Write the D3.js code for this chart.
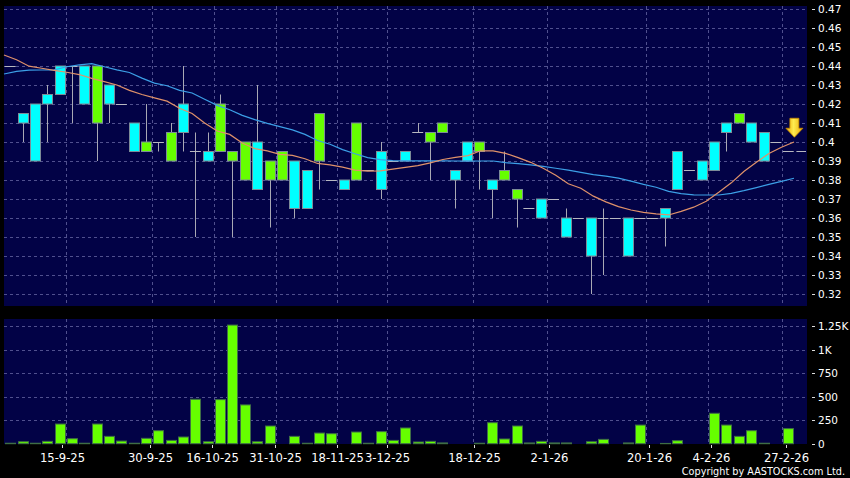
<!DOCTYPE html>
<html><head><meta charset="utf-8">
<script src="https://cdn.jsdelivr.net/npm/d3@7"></script>
<style>html,body{margin:0;padding:0;background:#000;} svg{display:block;}</style>
</head><body>
<svg id="c" width="850" height="478"></svg>
<script>
// ---- data ----
const opens  = [0.44,0.41,0.39,0.42,0.425,0.44,0.42,0.44,0.42,0.42,
                0.395,0.40,0.40,0.405,0.405,0.395,0.39,0.42,0.395,0.40,
                0.375,0.39,0.395,0.365,0.365,0.415,0.38,0.375,0.41,0.385,
                0.375,0.39,0.39,0.405,0.405,0.41,0.38,0.39,0.40,0.375,
                0.385,0.375,0.365,0.36,0.37,0.35,0.36,0.34,0.36,0.36,
                0.34,0.36,0.36,0.36,0.375,0.385,0.38,0.385,0.405,0.415,
                0.40,0.39,0.40,0.395];
const closes = [0.44,0.415,0.42,0.425,0.44,0.44,0.44,0.41,0.43,0.42,
                0.41,0.395,0.40,0.39,0.42,0.395,0.395,0.395,0.39,0.38,
                0.40,0.38,0.38,0.39,0.385,0.39,0.38,0.38,0.38,0.385,
                0.395,0.39,0.395,0.405,0.40,0.405,0.385,0.40,0.395,0.38,
                0.38,0.37,0.365,0.37,0.37,0.36,0.36,0.36,0.36,0.36,
                0.36,0.36,0.36,0.365,0.395,0.385,0.39,0.40,0.41,0.41,
                0.41,0.405,0.40,0.395];
const highs  = [0.44,0.415,0.42,0.43,0.44,0.44,0.44,0.44,0.43,0.42,
                0.41,0.42,0.40,0.41,0.44,0.405,0.405,0.425,0.395,0.40,
                0.43,0.39,0.395,0.39,0.385,0.415,0.38,0.38,0.41,0.385,
                0.40,0.39,0.395,0.41,0.405,0.41,0.385,0.40,0.40,0.38,
                0.395,0.375,0.365,0.37,0.37,0.365,0.36,0.36,0.365,0.36,
                0.36,0.36,0.36,0.365,0.395,0.385,0.39,0.40,0.41,0.415,
                0.41,0.405,0.40,0.395];
const lows   = [0.44,0.40,0.39,0.40,0.425,0.41,0.42,0.39,0.41,0.42,
                0.395,0.395,0.395,0.39,0.395,0.35,0.39,0.395,0.35,0.38,
                0.375,0.355,0.38,0.36,0.365,0.375,0.38,0.375,0.38,0.385,
                0.37,0.39,0.39,0.405,0.38,0.405,0.365,0.39,0.375,0.36,
                0.38,0.355,0.365,0.36,0.37,0.35,0.36,0.32,0.33,0.36,
                0.34,0.36,0.36,0.345,0.375,0.385,0.38,0.385,0.395,0.41,
                0.40,0.39,0.40,0.395];
const volumes = [5,21,5,25,209,53,5,209,78,28,
                 5,57,138,35,71,472,21,468,1260,412,
                 21,188,0,78,5,113,106,0,124,5,
                 128,35,167,18,25,8,0,0,5,223,
                 50,188,8,25,8,8,0,21,46,0,
                 8,198,0,3,32,0,0,323,198,78,
                 138,5,0,160];
const ma10 = [0.4458,0.4433,0.4399,0.4388,0.4377,0.4367,0.4355,0.4335,0.4318,0.4300,
              0.4272,0.4250,0.4232,0.4215,0.4178,0.4150,0.4100,0.4058,0.4040,0.3995,
              0.3965,0.3953,0.3935,0.3930,0.3912,0.3887,0.3880,0.3868,0.3852,0.3847,
              0.3848,0.3857,0.3866,0.3876,0.3890,0.3908,0.3919,0.3928,0.3954,0.3953,
              0.3940,0.3918,0.3893,0.3862,0.3825,0.3780,0.3757,0.3715,0.3685,0.3660,
              0.3642,0.3630,0.3622,0.3616,0.3635,0.3657,0.3688,0.3735,0.3785,0.3845,
              0.3893,0.3940,0.3972,0.4000];
const ma20 = [0.4358,0.4372,0.4378,0.4379,0.4380,0.4396,0.4406,0.4412,0.4396,0.4380,
              0.4366,0.4336,0.4310,0.4296,0.4272,0.4258,0.4225,0.4193,0.4170,0.4140,
              0.4118,0.4098,0.4081,0.4064,0.4040,0.4008,0.3988,0.3960,0.3938,0.3918,
              0.3907,0.3902,0.3901,0.3901,0.3901,0.3901,0.3900,0.3899,0.3900,0.3900,
              0.3891,0.3886,0.3880,0.3872,0.3862,0.3852,0.3840,0.3828,0.3820,0.3810,
              0.3794,0.3777,0.3762,0.3740,0.3728,0.3722,0.3721,0.3721,0.3730,0.3744,
              0.3760,0.3777,0.3793,0.3809];
const priceTicks = [0.47,0.46,0.45,0.44,0.43,0.42,0.41,0.40,0.39,0.38,0.37,0.36,0.35,0.34,0.33,0.32];
const volTicks = [0,250,500,750,1000,1250];
const volTickLabels = ["0","250","500","750","1K","1.25K"];
const dateLabels = ["15-9-25","30-9-25","16-10-25","31-10-25","18-11-25","3-12-25","18-12-25","2-1-26","20-1-26","4-2-26","27-2-26"];
const dateSlots = [5,12,17,22,27,31,38,44,52,57,63];
const lastPrice = 0.395;
const copyright = "Copyright by AASTOCKS.com Ltd.";

// ---- layout ----
const N = opens.length;
const L = 4, R = 807;
const P = {top: 6, bottom: 306};
const V = {top: 319, bottom: 444};

const x = d3.scaleLinear().domain([0, N]).range([L, L + 12.35 * N]);
const cx = i => x(i + 0.5);
const xMA = d3.scaleLinear().domain([0, N - 1]).range([L, 794]);
const xLab = d3.scaleLinear().domain([0, N]).range([0, 12.478 * N]);
const yP = d3.scaleLinear().domain([0.32, 0.47]).range([294, 9]);
const yV = d3.scaleLinear().domain([0, 1250]).range([443.7, 326]);

const svg = d3.select("#c");
svg.append("rect").attr("width", 850).attr("height", 478).attr("fill", "#000");

const navy = "#020246";
const gridCol = "#50508e";
svg.append("rect").attr("x", L).attr("y", P.top).attr("width", R - L).attr("height", P.bottom - P.top).attr("fill", navy);
svg.append("rect").attr("x", L).attr("y", V.top).attr("width", R - L).attr("height", V.bottom - V.top).attr("fill", navy);

// grids
const g = svg.append("g").attr("stroke", gridCol).attr("stroke-width", 1).attr("stroke-dasharray", "3,3");
g.selectAll(".hp").data(priceTicks).join("line")
  .attr("x1", L).attr("x2", R).attr("y1", d => Math.round(yP(d)) + 0.5).attr("y2", d => Math.round(yP(d)) + 0.5);
g.selectAll(".hv").data(volTicks.filter(d => d > 0)).join("line")
  .attr("x1", L).attr("x2", R).attr("y1", d => Math.round(yV(d)) + 0.5).attr("y2", d => Math.round(yV(d)) + 0.5);
dateSlots.forEach(k => {
  const xx = Math.round(x(k)) + 0.5;
  g.append("line").attr("x1", xx).attr("x2", xx).attr("y1", P.top).attr("y2", P.bottom);
  g.append("line").attr("x1", xx).attr("x2", xx).attr("y1", V.top).attr("y2", V.bottom);
});

// candles
const idx = d3.range(N);
const cg = svg.append("g");
cg.selectAll(".wick").data(idx.filter(i => highs[i] > lows[i])).join("line")
  .attr("x1", i => Math.round(cx(i)) + 0.5).attr("x2", i => Math.round(cx(i)) + 0.5)
  .attr("y1", i => yP(highs[i])).attr("y2", i => yP(lows[i]))
  .attr("stroke", "#a9a9b4").attr("stroke-width", 1);
cg.selectAll(".doji").data(idx.filter(i => opens[i] === closes[i])).join("line")
  .attr("x1", i => cx(i) - 5.5).attr("x2", i => cx(i) + 5.5)
  .attr("y1", i => Math.round(yP(opens[i])) + 0.5).attr("y2", i => Math.round(yP(opens[i])) + 0.5)
  .attr("stroke", "#b8b8c0").attr("stroke-width", 1);
cg.selectAll(".body").data(idx.filter(i => opens[i] !== closes[i])).join("rect")
  .attr("x", i => Math.round(cx(i) - 5) + 0.5).attr("width", 10)
  .attr("y", i => yP(Math.max(opens[i], closes[i])))
  .attr("height", i => Math.abs(yP(opens[i]) - yP(closes[i])))
  .attr("fill", i => closes[i] > opens[i] ? "#00ffff" : "#66ff00")
  .attr("stroke", "#7c8c98").attr("stroke-width", 1);

// last price marker
svg.append("line").attr("x1", x(N) + 2).attr("x2", R - 1)
  .attr("y1", Math.round(yP(lastPrice)) + 0.5).attr("y2", Math.round(yP(lastPrice)) + 0.5)
  .attr("stroke", "#b8b8c0");

// moving averages
const line = arr => d3.line().x((d, i) => xMA(i)).y(d => yP(d))(arr);
svg.append("path").attr("d", line(ma20)).attr("fill", "none").attr("stroke", "#3c9fe6").attr("stroke-width", 1.2);
svg.append("path").attr("d", line(ma10)).attr("fill", "none").attr("stroke", "#e0926a").attr("stroke-width", 1.2);

// arrow (latest)
const ax = x(N), ay = yP(lastPrice + 0.0075);
const defs = svg.append("defs");
const grad = defs.append("linearGradient").attr("id", "ag").attr("x1", 0).attr("x2", 1).attr("y1", 0).attr("y2", 0);
grad.append("stop").attr("offset", "0%").attr("stop-color", "#eaa800");
grad.append("stop").attr("offset", "45%").attr("stop-color", "#ffec50");
grad.append("stop").attr("offset", "100%").attr("stop-color", "#eaa800");
svg.append("path")
  .attr("d", `M${ax-4.5},${ay-19} L${ax+4.5},${ay-19} L${ax+4.5},${ay-9} L${ax+8.5},${ay-9} L${ax},${ay} L${ax-8.5},${ay-9} L${ax-4.5},${ay-9} Z`)
  .attr("fill", "url(#ag)").attr("stroke", "#c98a00").attr("stroke-width", 0.8);

// volume bars
svg.append("g").selectAll("rect").data(idx.filter(i => volumes[i] > 0)).join("rect")
  .attr("x", i => Math.round(cx(i) - 5) + 0.5).attr("width", 10)
  .attr("y", i => yV(volumes[i])).attr("height", i => yV(0) - yV(volumes[i]))
  .attr("fill", "#66ff00").attr("stroke", "#3f6e46").attr("stroke-width", 1);

// axes text
const font = "DejaVu Sans, Verdana, sans-serif";
const ta = svg.append("g").attr("fill", "#fff").attr("font-family", font).attr("font-size", 10.5);
priceTicks.forEach(t => {
  const yy = Math.round(yP(t)) + 0.5;
  svg.append("line").attr("x1", 812).attr("x2", 815).attr("y1", yy).attr("y2", yy).attr("stroke", "#ddd");
  ta.append("text").attr("x", 818).attr("y", yy).attr("dy", "0.36em").text(d3.format("")(t));
});
volTicks.forEach((t, k) => {
  const yy = Math.round(yV(t)) + 0.5;
  svg.append("line").attr("x1", 812).attr("x2", 815).attr("y1", yy).attr("y2", yy).attr("stroke", "#ddd");
  ta.append("text").attr("x", 818).attr("y", yy).attr("dy", "0.36em").text(volTickLabels[k]);
});
const tx = svg.append("g").attr("fill", "#fff").attr("font-family", font).attr("font-size", 11.6);
dateSlots.forEach((k, j) => {
  const xx = Math.round(xLab(k)) + 0.5;
  svg.append("line").attr("x1", xx).attr("x2", xx).attr("y1", 445).attr("y2", 448).attr("stroke", "#ddd");
  tx.append("text").attr("x", xx).attr("y", 461.5).attr("text-anchor", "middle").text(dateLabels[j]);
});
svg.append("text").attr("x", 845).attr("y", 474.5).attr("text-anchor", "end")
  .attr("fill", "#fff").attr("font-family", font).attr("font-size", 9.7).text(copyright);
</script>
</body></html>
